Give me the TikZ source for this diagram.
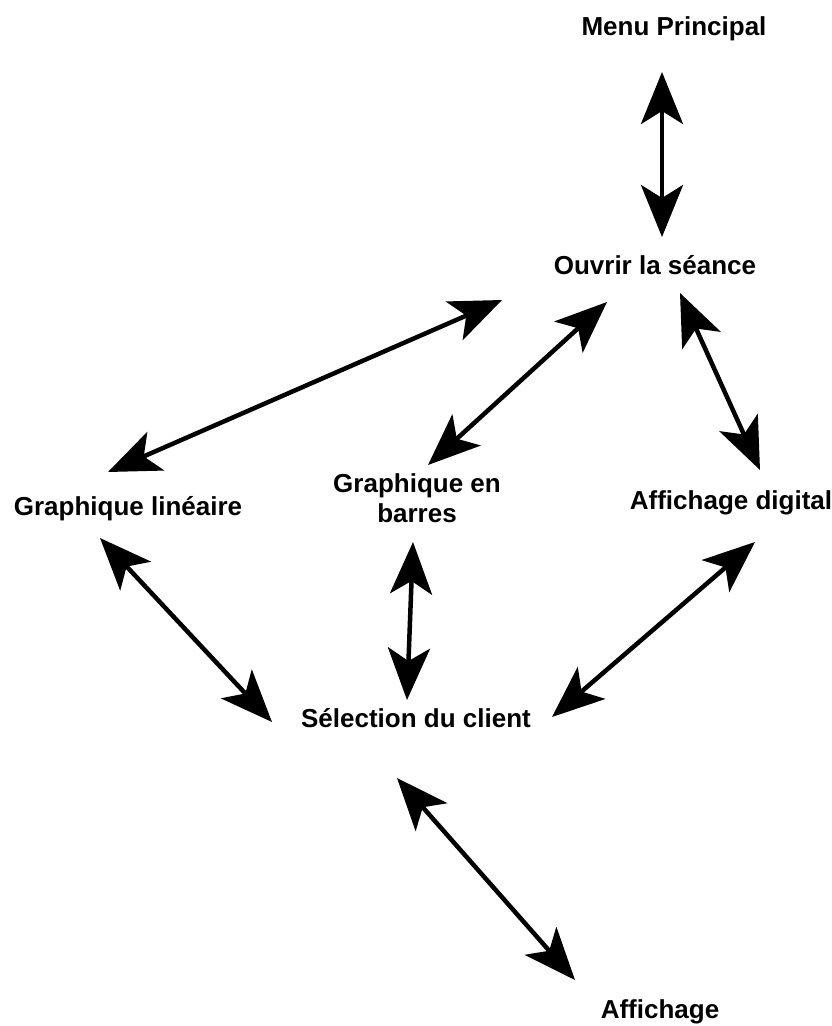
\documentclass[tikz,border=0pt]{standalone}
\usepackage{fontspec}
\setmainfont{Liberation Sans}
\usetikzlibrary{arrows.meta}
\tikzset{
  lbl/.style={anchor=base, inner sep=0pt, font=\fontsize{26}{30}\selectfont\bfseries, align=center},
  dbl/.style={line width=4.5pt, {Stealth[length=52pt, width=42pt, inset=13pt]}-{Stealth[length=52pt, width=42pt, inset=13pt]}}
}
\begin{document}
\begin{tikzpicture}[x=1pt, y=-1pt]
\fill[white] (0,0) rectangle (832,1026);
\useasboundingbox (0,0) rectangle (832,1026);
\node[lbl] (menu) at (674,35) {Menu Principal};
\node[lbl] (ouv) at (655,274) {Ouvrir la séance};
\node[lbl] (lin) at (128,515) {Graphique linéaire};
\node[lbl] (bar) at (417,522) {Graphique en\\barres};
\node[lbl] (dig) at (731,509) {Affichage digital};
\node[lbl] (sel) at (416,727) {Sélection du client};
\node[lbl] (aff) at (660,1018) {Affichage};
\draw[dbl] ([shift={(-12,37)}]menu.base) -- ([shift={(7,-37)}]ouv.base);
\draw[dbl] ([shift={(-153,26)}]ouv.base) -- ([shift={(-20,-43)}]lin.base);
\draw[dbl] ([shift={(-48,28)}]ouv.base) -- ([shift={(11,-57)}]bar.base);
\draw[dbl] ([shift={(25,19)}]ouv.base) -- ([shift={(29,-39)}]dig.base);
\draw[dbl] ([shift={(-28,23)}]lin.base) -- ([shift={(-144,-5)}]sel.base);
\draw[dbl] ([shift={(-4,20)}]bar.base) -- ([shift={(-9,-27)}]sel.base);
\draw[dbl] ([shift={(24,33)}]dig.base) -- ([shift={(136,-10)}]sel.base);
\draw[dbl] ([shift={(-19,51)}]sel.base) -- ([shift={(-85,-38)}]aff.base);
\end{tikzpicture}
\end{document}
